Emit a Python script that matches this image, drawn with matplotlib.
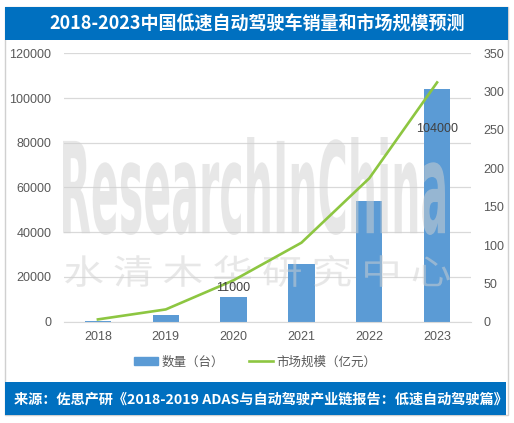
import matplotlib
matplotlib.use('Agg')
import matplotlib.pyplot as plt
from matplotlib.patches import Rectangle, PathPatch
from matplotlib.textpath import TextPath
from matplotlib.font_manager import FontProperties
from matplotlib.transforms import Affine2D
from matplotlib.lines import Line2D

plt.rcParams['font.family'] = ['Noto Sans CJK SC', 'DejaVu Sans']

# 数据
years = ['2018', '2019', '2020', '2021', '2022', '2023']
volume = [500, 3000, 11000, 26000, 54000, 104000]
market = [3, 16, 54, 103, 187, 312]
labeled = {2: '11000', 5: '104000'}

W, H = 514, 423
BLUE = '#0070C0'
BAR = '#5B9BD5'
LINE = '#8DC641'
GRID = '#D9D9D9'
TXT = '#595959'
NUMFONT = ['Liberation Sans', 'DejaVu Sans']

fig = plt.figure(figsize=(W / 100, H / 100), dpi=100)


def fx(px):
    return px / W


def fy(py):
    return 1 - py / H


# 背景框、标题栏、底栏
fig.patches.append(Rectangle((fx(5), fy(415)), fx(503), (415 - 7) / H,
                             transform=fig.transFigure, facecolor='white',
                             edgecolor='#D0D0D0', lw=1, zorder=-2))
fig.patches.append(Rectangle((fx(5), fy(40)), fx(503), 33 / H,
                             transform=fig.transFigure, facecolor=BLUE, lw=0, zorder=-1))
fig.patches.append(Rectangle((fx(5), fy(415)), fx(501), 33 / H,
                             transform=fig.transFigure, facecolor=BLUE, lw=0, zorder=-1))
fig.text(fx(257), fy(24), '2018-2023中国低速自动驾驶车销量和市场规模预测',
         color='white', fontsize=13, fontweight='bold', ha='center', va='center')
fig.text(fx(14), fy(400), '来源：佐思产研《2018-2019 ADAS与自动驾驶产业链报告：低速自动驾驶篇》',
         color='white', fontsize=10.2, fontweight='bold', ha='left', va='center')

ax = fig.add_axes([fx(64), fy(321.7), fx(471 - 64), (321.7 - 53.3) / H])
ax.set_facecolor('none')
ax.set_zorder(0)
x = list(range(len(years)))
ax.bar(x, volume, width=0.39, color=BAR, zorder=2)
ax.set_xlim(-0.5, 5.5)
ax.set_ylim(0, 120000)
ax.set_yticks(range(0, 120001, 20000))
ax.set_xticks(x)
ax.set_xticklabels(years)
ax.grid(axis='y', color=GRID, lw=0.9, zorder=0)
ax.set_axisbelow(True)
for s in ax.spines.values():
    s.set_visible(False)
ax.spines['bottom'].set_visible(True)
ax.spines['bottom'].set_color(GRID)
ax.tick_params(length=0, colors=TXT, labelsize=9)
ax.tick_params(axis='y', pad=9)
ax.tick_params(axis='x', pad=7)

ax2 = ax.twinx()
ax2.set_zorder(2)
ax2.set_facecolor('none')
ax2.plot(x, market, color=LINE, lw=1.9, zorder=4)
ax2.set_ylim(0, 350)
ax2.set_yticks(range(0, 351, 50))
for s in ax2.spines.values():
    s.set_visible(False)
ax2.tick_params(length=0, colors=TXT, labelsize=9, pad=9)

# 数据标签放在最上层
for i, t in labeled.items():
    if i == 5:
        y, va = volume[i] * 0.83, 'center'
    else:
        y, va = volume[i] + 1200, 'bottom'
    ax2.text(i, y * 350 / 120000, t, ha='center', va=va,
             fontsize=9, color='#404040', family=NUMFONT, zorder=5)

for lab in ax.get_xticklabels() + ax.get_yticklabels() + ax2.get_yticklabels():
    lab.set_family(NUMFONT)


# 水印
def stamp(text, x0, y0, x1, y1, font, alpha):
    tp = TextPath((0, 0), text, size=100, prop=font)
    bb = tp.get_extents()
    sx = (x1 - x0) / bb.width
    sy = (y1 - y0) / bb.height
    tr = Affine2D().translate(-bb.x0, -bb.y0).scale(sx, sy).translate(x0, H - y1)
    patch = PathPatch(tr.transform_path(tp), facecolor='#D1D1D1', edgecolor='none',
                      alpha=alpha, transform=None, zorder=1)
    fig.patches.append(patch)


stamp('ResearchInChina', 63, 137, 445, 235,
      FontProperties(family='DejaVu Sans', weight='bold'), 0.5)
stamp('水 清 木 华 研 究 中 心', 65, 255, 450, 287,
      FontProperties(family='Noto Sans CJK SC', weight='light'), 0.5)

handles = [Rectangle((0, 0), 1, 1, color=BAR), Line2D([0], [0], color=LINE, lw=1.9)]
fig.legend(handles, ['数量（台）', '市场规模（亿元）'], loc='center',
           bbox_to_anchor=(fx(255), fy(362)), ncol=2, frameon=False, fontsize=9,
           labelcolor=TXT, handlelength=1.9, handleheight=0.55, handletextpad=0.3,
           columnspacing=2.0)

fig.savefig('out.png', dpi=100)
